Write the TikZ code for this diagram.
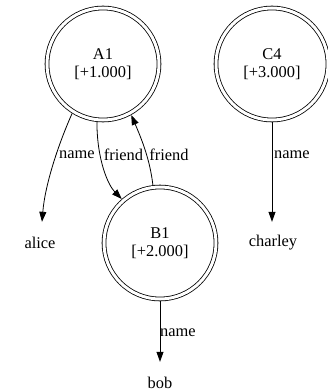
\documentclass[tikz,border=0pt]{standalone}
\usepackage{fontspec}
\setmainfont{Liberation Serif}
\usetikzlibrary{arrows.meta}
\begin{document}
\begin{tikzpicture}[x=1pt,y=-1pt,
  txt/.style={font=\fontsize{16.4}{17.5}\selectfont},
  state/.style={txt, circle, draw, double, double distance=3pt, line width=0.8pt, minimum size=112pt, inner sep=0pt, outer sep=2.3pt, align=center},
  term/.style={txt, inner sep=0pt, minimum height=42pt},
  lbl/.style={txt, inner sep=0pt},
  link/.style={-{Triangle[length=10pt,width=7pt]}, line width=0.8pt}
]
\useasboundingbox (0,0) rectangle (328,391);
\node[state] (A1) at (103,64) {A1\\{}[+1.000]};
\node[state] (C4) at (272,64) {C4\\{}[+3.000]};
\node[state] (B1) at (160,243) {B1\\{}[+2.000]};
\node[term] (alice) at (40,243) {alice};
\node[term] (charley) at (273,243) {charley};
\node[term] (bob) at (160,383) {bob};

\draw[link] (A1.238) .. controls (58,145) and (45,185) .. ([xshift=2pt]alice.north);
\draw[link] (A1.264) .. controls (97,160) and (108,185) .. (B1.131);
\draw[link] (B1.97) .. controls (150,160) and (142,140) .. (A1.299);
\draw[link] (C4.south) -- (C4.south |- charley.north);
\draw[link] (B1.south) -- (B1.south |- bob.north);

\node[lbl, anchor=west] (l1) at (59,155) {name};
\node[lbl] (l2) at (123.5,155) {friend};
\node[lbl] (l3) at (169,155) {friend};
\node[lbl] (l4) at (292,155) {name};
\node[lbl] (l5) at (178,333) {name};
\end{tikzpicture}
\end{document}
